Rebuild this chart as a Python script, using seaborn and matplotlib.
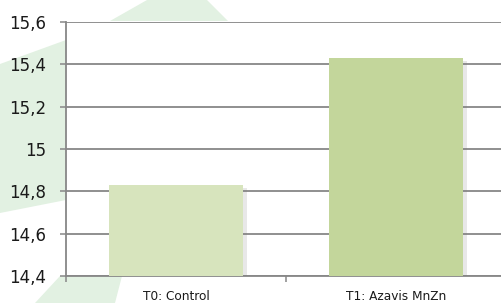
import matplotlib
matplotlib.use("Agg")
import matplotlib.pyplot as plt
import matplotlib.patheffects as pe
import seaborn as sns
import pandas as pd
from matplotlib.patches import Polygon

categories = ["T0: Control", "T1: Azavis MnZn"]
values = [14.83, 15.43]
bar_colors = ["#d7e4bd", "#c3d69b"]
yticks = [14.4, 14.6, 14.8, 15.0, 15.2, 15.4, 15.6]
ytick_labels = ["14,4", "14,6", "14,8", "15", "15,2", "15,4", "15,6"]

sns.set_theme(style="white")
plt.rcParams['font.family'] = ['DejaVu Sans']

W, H = 501, 303
fig = plt.figure(figsize=(W / 100, H / 100), dpi=100)
fig.patch.set_facecolor("white")

def px(pts):
    return [(x / W, 1 - y / H) for x, y in pts]

deco = "#e2f1e2"
for pts in [
    [(0, 64), (66, 40), (66, 200), (0, 213)],
    [(110, 21), (147, 0), (207, 0), (228, 21)],
    [(60, 276), (122, 276), (115, 303), (35, 303)],
]:
    fig.add_artist(Polygon(px(pts), closed=True, transform=fig.transFigure,
                           facecolor=deco, edgecolor="none", zorder=0))

ax = fig.add_axes([66 / W, (H - 276) / H, 440 / W, (276 - 22) / H])
ax.set_facecolor("white")

df = pd.DataFrame({"cat": categories, "val": values})
sns.barplot(data=df, x="cat", y="val", hue="cat", palette=bar_colors,
            width=0.61, legend=False, ax=ax, saturation=1, zorder=3,
            linewidth=0)
for p in ax.patches:
    p.set_path_effects([pe.SimplePatchShadow(offset=(3, -2), shadow_rgbFace="#808080", alpha=0.18),
                        pe.Normal()])

ax.set_ylim(14.4, 15.6)
ax.set_xlim(-0.5, 1.5)
ax.set_yticks(yticks)
ax.set_yticklabels(ytick_labels, fontsize=12, color="#1a1a1a")
ax.set_xticks([0, 1])
ax.set_xticklabels(categories, fontsize=8.7, color="#1a1a1a")
ax.set_xticks([-0.5, 0.5, 1.5], minor=True)

gcol = "#878787"
ax.yaxis.grid(True, color=gcol, linewidth=1.3)
ax.set_axisbelow(True)
for s in ["top", "right"]:
    ax.spines[s].set_visible(False)
for s in ["left", "bottom"]:
    ax.spines[s].set_color(gcol)
    ax.spines[s].set_linewidth(1.3)

ax.tick_params(axis="y", which="major", length=4, width=1.1, color=gcol,
               direction="out", left=True, pad=10)
ax.tick_params(axis="x", which="major", length=0, pad=10)
ax.tick_params(axis="x", which="minor", length=4, width=1.1, color=gcol,
               direction="out", bottom=True)
ax.set_xlabel("")
ax.set_ylabel("")

fig.savefig("out.png", dpi=100, facecolor="white")
